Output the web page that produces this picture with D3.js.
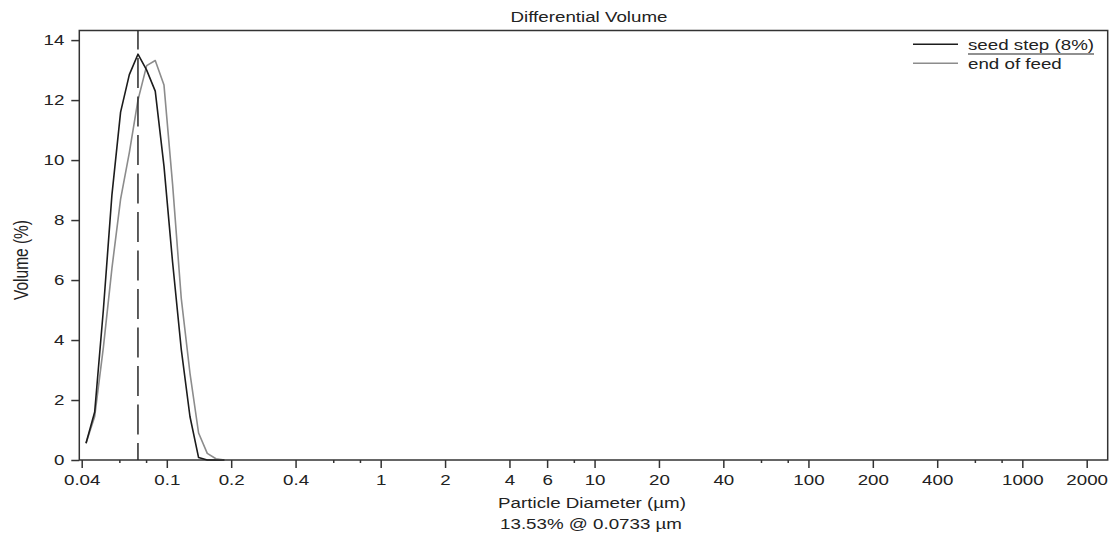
<!DOCTYPE html>
<html lang="en">
<head>
<meta charset="utf-8">
<title>Differential Volume</title>
<script src="https://cdn.jsdelivr.net/npm/d3@7"></script>
<style>
  body { margin: 0; background: #fff; }
  text { font-family: "Liberation Sans", Arial, sans-serif; fill: #222; }
</style>
</head>
<body>
<script>
// channel centres (um) and volume % per channel
var diameters = [0.0419, 0.0460, 0.0505, 0.0554, 0.0608, 0.0668, 0.0733, 0.0805, 0.0883,
                 0.0970, 0.1064, 0.1168, 0.1283, 0.1408, 0.1546, 0.1697, 0.1862];
var seedStep  = [0.56, 1.60, 5.00, 8.85, 11.60, 12.85, 13.53, 13.00, 12.30,
                 9.80, 6.60, 3.70, 1.45, 0.08, 0.00, 0.00, 0.00];
var endOfFeed = [0.56, 1.45, 3.75, 6.40, 8.70, 10.25, 12.00, 13.15, 13.32,
                 12.50, 9.20, 5.40, 2.90, 0.90, 0.22, 0.04, 0.00];
var seriesNames = ["seed step (8%)", "end of feed"];
var seriesColors = ["#1c1c1c", "#8c8c8c"];

var xMajor = [0.04, 0.1, 0.2, 0.4, 1, 2, 4, 6, 10, 20, 40, 100, 200, 400, 1000, 2000];
var xMinor = [0.06, 0.08, 0.6, 0.8, 8, 60, 80, 600, 800];
var yTicks = [0, 2, 4, 6, 8, 10, 12, 14];

var peakValue = 13.53, peakDiameter = 0.0733;

var W = 1111, H = 541;
// plot frame edges (note: "top" is reserved on window, so prefixed names)
var pLeft = 79.3, pRight = 1107.7, pTop = 30.5, pBottom = 460;
var stretch = 1.25; // text in the original is wider than it is tall

var svg = d3.select("body").append("svg")
  .attr("width", W).attr("height", H);

var x = d3.scaleLog().domain([0.04, 2000]).range([81.7, 1086.7]);
var y = d3.scaleLinear().domain([0, 14.32]).range([pBottom, pTop]);

// plot frame
svg.append("rect")
  .attr("x", pLeft).attr("y", pTop)
  .attr("width", pRight - pLeft).attr("height", pBottom - pTop)
  .attr("fill", "none").attr("stroke", "#333").attr("stroke-width", 1.5);

// x axis, major ticks with labels
var xAxis = svg.append("g")
  .attr("transform", "translate(0," + pBottom + ")")
  .call(d3.axisBottom(x).tickValues(xMajor).tickSize(8)
    .tickFormat(function(d) { return String(d); }));
xAxis.select(".domain").remove();
xAxis.selectAll(".tick line").attr("stroke", "#333").attr("stroke-width", 1.5);
xAxis.selectAll(".tick text")
  .attr("y", 25).attr("dy", null)
  .attr("font-size", 15)
  .attr("transform", "scale(" + stretch + ",1)");

// minor ticks
var xMinorAxis = svg.append("g")
  .attr("transform", "translate(0," + pBottom + ")")
  .call(d3.axisBottom(x).tickValues(xMinor).tickSize(3).tickFormat(""));
xMinorAxis.select(".domain").remove();
xMinorAxis.selectAll(".tick line").attr("stroke", "#333").attr("stroke-width", 1.5);

// y axis
var yAxis = svg.append("g")
  .attr("transform", "translate(" + pLeft + ",0)")
  .call(d3.axisLeft(y).tickValues(yTicks).tickSize(8));
yAxis.select(".domain").remove();
yAxis.selectAll(".tick line").attr("stroke", "#333").attr("stroke-width", 1.5);
yAxis.selectAll(".tick text")
  .attr("x", -15 / stretch)
  .attr("font-size", 15)
  .attr("transform", "scale(" + stretch + ",1)");

// stretched text helper
function label(txt, px, py, anchor) {
  return svg.append("text")
    .attr("transform", "translate(" + px + "," + py + ") scale(" + stretch + ",1)")
    .attr("text-anchor", anchor || "middle")
    .attr("font-size", 15)
    .text(txt);
}

label("Differential Volume", 589, 22);
label("Particle Diameter (\u00b5m)", 592, 508);
label(peakValue.toFixed(2) + "% @ " + peakDiameter + " \u00b5m", 591, 529);

svg.append("text")
  .attr("transform", "translate(21,260) rotate(-90) scale(1," + stretch + ")")
  .attr("text-anchor", "middle")
  .attr("dy", "0.35em")
  .attr("font-size", 15.5)
  .text("Volume (%)");

// curves
var line = d3.line()
  .x(function(d) { return x(d[0]); })
  .y(function(d) { return y(d[1]); });

var series = [endOfFeed, seedStep];
var colors = [seriesColors[1], seriesColors[0]];
series.forEach(function(vals, k) {
  svg.append("path")
    .datum(diameters.map(function(d, i) { return [d, vals[i]]; }))
    .attr("d", line)
    .attr("fill", "none")
    .attr("stroke", colors[k])
    .attr("stroke-width", 1.6)
    .attr("stroke-linejoin", "round");
});

// marker line at the peak diameter
svg.append("line")
  .attr("x1", x(peakDiameter)).attr("x2", x(peakDiameter))
  .attr("y1", pTop).attr("y2", pBottom)
  .attr("stroke", "#2a2a2a").attr("stroke-width", 1.5)
  .attr("stroke-dasharray", "30 8.5")
  .attr("stroke-dashoffset", 11);

// legend
var legY = [44.3, 63.3];
seriesNames.forEach(function(name, i) {
  svg.append("line")
    .attr("x1", 913).attr("x2", 958)
    .attr("y1", legY[i]).attr("y2", legY[i])
    .attr("stroke", seriesColors[i]).attr("stroke-width", 1.5);
  var t = label(name, 968, legY[i] + 5.5, "start");
  if (i === 0) {
    var w = t.node().getComputedTextLength() * stretch;
    svg.append("line")
      .attr("x1", 968).attr("x2", 968 + w)
      .attr("y1", 54).attr("y2", 54)
      .attr("stroke", "#222").attr("stroke-width", 1.2);
  }
});
</script>
</body>
</html>
